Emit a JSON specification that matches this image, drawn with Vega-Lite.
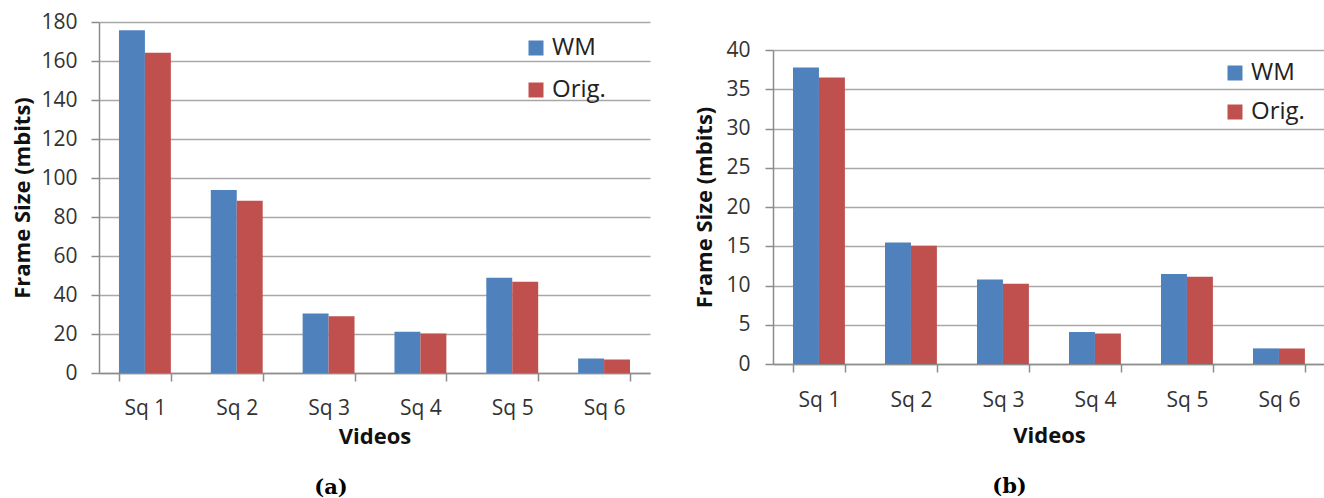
{
  "$schema": "https://vega.github.io/schema/vega-lite/v6.json",
  "background": "white",
  "padding": {"left": 11, "top": 11, "right": 0, "bottom": 0},
  "spacing": 43,
  "config": {
    "view": {"stroke": null},
    "font": "Open Sans",
    "bar": {"stroke": null},
    "axis": {
      "labelFont": "Open Sans",
      "labelFontSize": 21,
      "labelColor": "#333333",
      "titleFont": "Open Sans",
      "titleFontWeight": "bold",
      "titleFontSize": 22,
      "titleColor": "#111111",
      "domainColor": "#8c8c8c",
      "domainWidth": 1.5,
      "tickColor": "#8c8c8c",
      "tickWidth": 1.5,
      "tickSize": 8,
      "gridColor": "#a8a8a8",
      "gridWidth": 1.5
    },
    "legend": {
      "labelFont": "Open Sans",
      "labelFontSize": 24,
      "labelColor": "#222222",
      "symbolType": "square",
      "symbolSize": 225,
      "symbolStrokeWidth": 0,
      "labelOffset": 4,
      "padding": 0
    },
    "title": {
      "font": "DejaVu Serif",
      "fontWeight": "bold",
      "fontSize": 21,
      "color": "#000000",
      "orient": "bottom",
      "frame": "bounds",
      "anchor": "middle"
    }
  },
  "datasets": {
    "a": [
      {"video": "Sq 1", "series": "WM", "value": 175.8},
      {"video": "Sq 1", "series": "Orig.", "value": 164.2},
      {"video": "Sq 2", "series": "WM", "value": 93.8},
      {"video": "Sq 2", "series": "Orig.", "value": 88.3},
      {"video": "Sq 3", "series": "WM", "value": 30.5},
      {"video": "Sq 3", "series": "Orig.", "value": 29.1},
      {"video": "Sq 4", "series": "WM", "value": 21.1},
      {"video": "Sq 4", "series": "Orig.", "value": 20.2},
      {"video": "Sq 5", "series": "WM", "value": 48.9},
      {"video": "Sq 5", "series": "Orig.", "value": 46.8},
      {"video": "Sq 6", "series": "WM", "value": 7.4},
      {"video": "Sq 6", "series": "Orig.", "value": 6.9}
    ],
    "b": [
      {"video": "Sq 1", "series": "WM", "value": 37.76},
      {"video": "Sq 1", "series": "Orig.", "value": 36.5},
      {"video": "Sq 2", "series": "WM", "value": 15.47},
      {"video": "Sq 2", "series": "Orig.", "value": 15.05},
      {"video": "Sq 3", "series": "WM", "value": 10.77},
      {"video": "Sq 3", "series": "Orig.", "value": 10.23},
      {"video": "Sq 4", "series": "WM", "value": 4.08},
      {"video": "Sq 4", "series": "Orig.", "value": 3.9},
      {"video": "Sq 5", "series": "WM", "value": 11.46},
      {"video": "Sq 5", "series": "Orig.", "value": 11.12},
      {"video": "Sq 6", "series": "WM", "value": 1.99},
      {"video": "Sq 6", "series": "Orig.", "value": 1.99}
    ]
  },
  "resolve": {"legend": {"color": "independent"}, "scale": {"y": "independent"}},
  "hconcat": [
    {
      "width": 551,
      "height": 351,
      "data": {"name": "a"},
      "title": {"text": "(a)", "offset": 30},
      "mark": {"type": "bar"},
      "encoding": {
        "x": {
          "field": "video",
          "type": "nominal",
          "scale": {"paddingInner": 0.435, "paddingOuter": 0.2175},
          "axis": {"title": "Videos", "labelAngle": 0, "tickBand": "extent", "labelPadding": 16, "titlePadding": 8}
        },
        "xOffset": {
          "field": "series",
          "type": "nominal",
          "sort": ["WM", "Orig."],
          "scale": {"paddingInner": 0, "paddingOuter": 0}
        },
        "y": {
          "field": "value",
          "type": "quantitative",
          "scale": {"domain": [0, 180], "nice": false},
          "axis": {"values": [0, 20, 40, 60, 80, 100, 120, 140, 160, 180], "title": "Frame Size (mbits)", "labelPadding": 14, "titlePadding": 6}
        },
        "color": {
          "field": "series",
          "type": "nominal",
          "sort": ["WM", "Orig."],
          "scale": {"domain": ["WM", "Orig."], "range": ["#4F81BD", "#C0504D"]},
          "legend": {"orient": "none", "legendX": 425, "legendY": 14, "title": null, "rowPadding": 18}
        }
      }
    },
    {
      "width": 552,
      "height": 342,
      "data": {"name": "b"},
      "title": {"text": "(b)", "offset": 30},
      "mark": {"type": "bar"},
      "encoding": {
        "x": {
          "field": "video",
          "type": "nominal",
          "scale": {"paddingInner": 0.435, "paddingOuter": 0.2175},
          "axis": {"title": "Videos", "labelAngle": 0, "tickBand": "extent", "labelPadding": 17, "titlePadding": 15}
        },
        "xOffset": {
          "field": "series",
          "type": "nominal",
          "sort": ["WM", "Orig."],
          "scale": {"paddingInner": 0, "paddingOuter": 0}
        },
        "y": {
          "field": "value",
          "type": "quantitative",
          "scale": {"domain": [0, 40], "nice": false, "range": [342, 28]},
          "axis": {"values": [0, 5, 10, 15, 20, 25, 30, 35, 40], "title": "Frame Size (mbits)", "labelPadding": 15, "titlePadding": 9}
        },
        "color": {
          "field": "series",
          "type": "nominal",
          "sort": ["WM", "Orig."],
          "scale": {"domain": ["WM", "Orig."], "range": ["#4F81BD", "#C0504D"]},
          "legend": {"orient": "none", "legendX": 450, "legendY": 39, "title": null, "rowPadding": 15}
        }
      }
    }
  ]
}
